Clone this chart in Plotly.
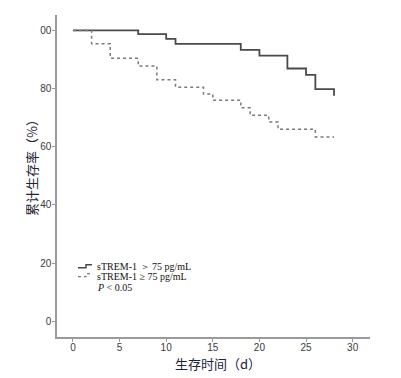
import plotly.graph_objects as go

# Data
days_high = [0, 7, 10, 11, 18, 20, 23, 25, 26, 28]
surv_high = [100, 98.7, 97.1, 95.4, 93.3, 91.3, 86.9, 84.7, 79.8, 77.5]
days_low = [0, 2, 4, 7, 9, 11, 14, 15, 18, 19, 21, 22, 26, 28]
surv_low = [100, 95.4, 90.4, 87.8, 83.0, 80.5, 78.1, 76.0, 73.4, 70.8, 68.5, 66.0, 63.4, 63.4]
x_ticks = [0, 5, 10, 15, 20, 25, 30]
y_ticks = [0, 20, 40, 60, 80, 100]
y_ticklabels = ["0", "20", "40", "60", "80", "00"]
legend_labels = ["sTREM-1 ＞ 75 pg/mL", "sTREM-1 ≥ 75 pg/mL"]
x_title = "生存时间（d）"
y_title = "累计生存率（%）"

W, H = 401, 378
L, R, T, B = 57, 31, 15, 41
pw, ph = W - L - R, H - T - B

def px(x):
    return (x - L) / pw

def py(y):
    return 1 - (y - T) / ph

fig = go.Figure()
fig.add_trace(go.Scatter(x=days_high, y=surv_high, mode="lines", line_shape="hv",
                         line=dict(color="#4a4a4a", width=1.8), showlegend=False))
fig.add_trace(go.Scatter(x=days_low, y=surv_low, mode="lines", line_shape="hv",
                         line=dict(color="#7a7a7a", width=1.5, dash="dot"), showlegend=False))

tickfont = dict(family="Liberation Sans, Arial", size=10, color="#3a3a3a")
fig.update_xaxes(range=[-1.71, 31.86], tickvals=x_ticks, showline=True, linecolor="#9a9a9a",
                 linewidth=1.5, ticks="outside", ticklen=3, tickcolor="#9a9a9a",
                 showgrid=False, zeroline=False, tickfont=tickfont, ticklabelstandoff=-3)
fig.update_yaxes(range=[-5.4, 105.3], tickvals=y_ticks, ticktext=y_ticklabels, showline=True,
                 linecolor="#9a9a9a", linewidth=1.5, ticks="outside", ticklen=3, tickcolor="#9a9a9a",
                 showgrid=False, zeroline=False, tickfont=tickfont, ticklabelstandoff=-1)

titlefont = dict(family="Noto Sans CJK SC", size=13, color="#1c2333")
fig.add_annotation(text=x_title, x=px(218), y=py(363), xref="paper", yref="paper",
                   xanchor="center", yanchor="middle", showarrow=False, font=titlefont)
fig.add_annotation(text=y_title, x=px(31), y=py(165), xref="paper", yref="paper",
                   xanchor="center", yanchor="middle", showarrow=False, font=titlefont,
                   textangle=-90)

# legend glyphs (step samples)
def step_path(y0):
    x1, xm, x2 = px(78), px(86), px(92)
    ylo, yhi = py(y0 + 3), py(y0)
    return f"M {x1} {ylo} L {xm} {ylo} L {xm} {yhi} L {x2} {yhi}"

fig.add_shape(type="path", path=step_path(264.7), xref="paper", yref="paper",
              line=dict(color="#4a4a4a", width=1.5))
fig.add_shape(type="path", path=step_path(273.7), xref="paper", yref="paper",
              line=dict(color="#7a7a7a", width=1.2, dash="dot"))

txtfont = dict(family="Liberation Serif, Times New Roman", size=10, color="#111")
for lbl, yy in zip(legend_labels, [266, 276.5]):
    fig.add_annotation(text=lbl, x=px(95), y=py(yy), xref="paper", yref="paper",
                       xanchor="left", yanchor="middle", showarrow=False, font=txtfont)
fig.add_annotation(text="<i>P</i> < 0.05", x=px(95), y=py(287.5), xref="paper", yref="paper",
                   xanchor="left", yanchor="middle", showarrow=False, font=txtfont)

fig.update_layout(width=W, height=H, margin=dict(l=L, r=R, t=T, b=B),
                  plot_bgcolor="white", paper_bgcolor="white")
fig.write_html("out.html", config={"displayModeBar": False},
               post_script="document.body.style.margin='0';document.body.style.padding='0';document.body.style.overflow='hidden';")
